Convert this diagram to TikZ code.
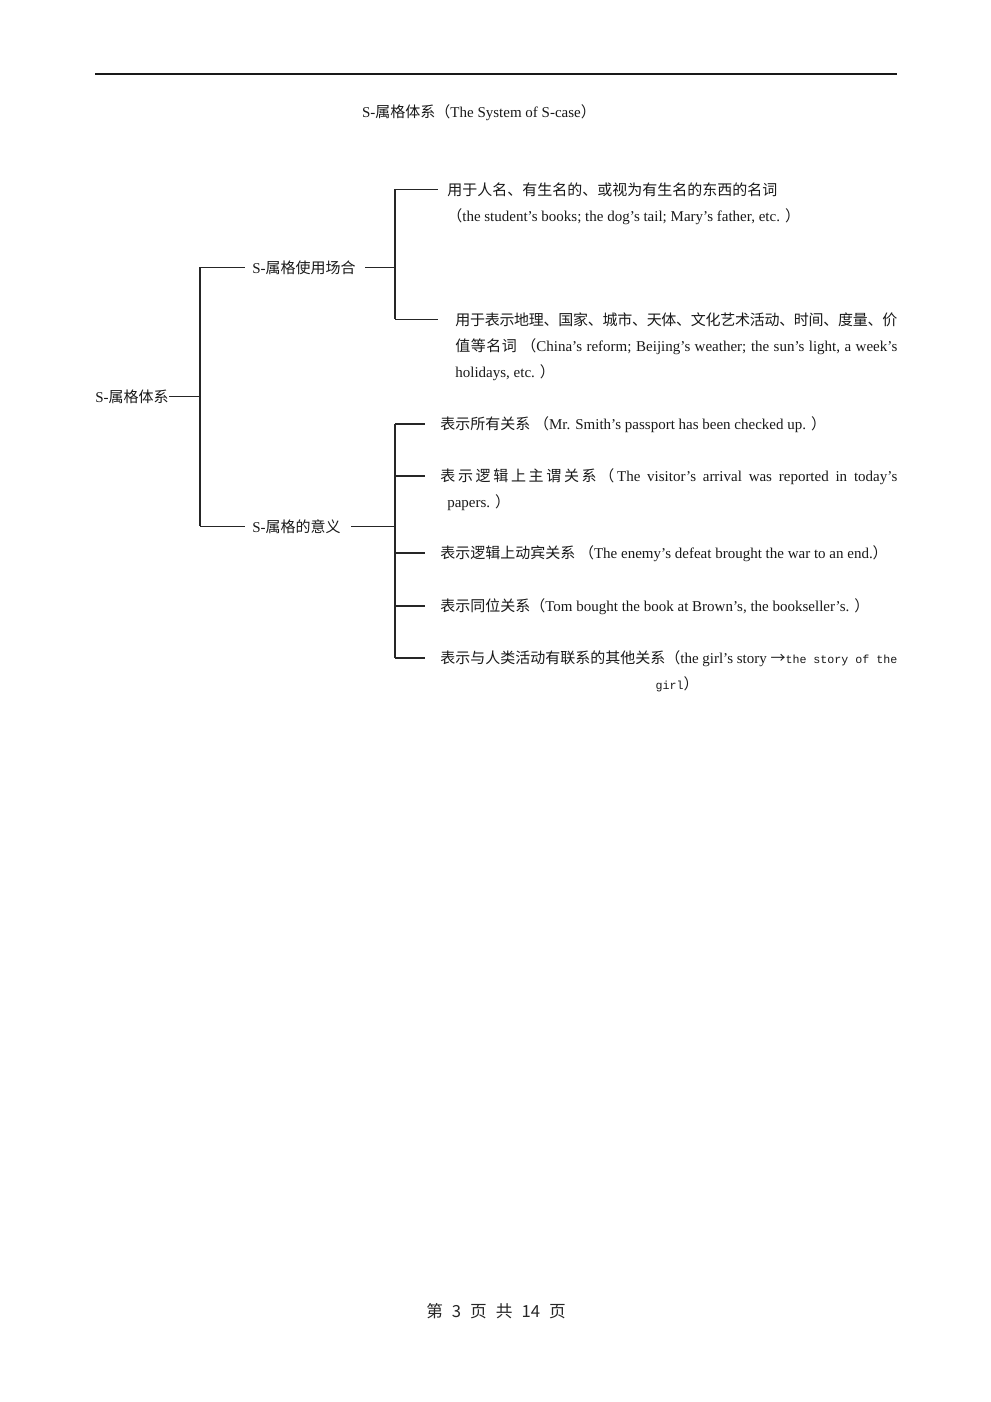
\documentclass[tikz,border=0pt]{standalone}
\usepackage{fontspec}
\setmainfont{Liberation Serif}
\newfontfamily\cjk{Noto Sans CJK SC}
\newfontfamily\monof{Liberation Mono}
\newcommand\zh[1]{{\cjk #1}}
% spread CJK characters with flexible glue
\def\cjkspread#1{\cjkspreadA#1\relax}
\def\cjkspreadA#1{\ifx#1\relax\unskip\else #1\hskip 0pt plus 1pt minus 1pt\expandafter\cjkspreadA\fi}
\begin{document}
\begin{tikzpicture}[x=0.6pt,y=-0.6pt,
  tx/.style={inner sep=0pt, anchor=base west, font=\fontsize{9}{11}\selectfont, text=black!90},
  link/.style={line width=0.9pt, draw=black!85}]
\useasboundingbox (0,0) rectangle (991,1402);
\fill[white] (0,0) rectangle (991,1402);
% header rule
\coordinate (hl) at (95,74);
\coordinate (hr) at (897,74);
\draw[line width=1.1pt, draw=black!90] (hl) -- (hr);
% title
\node[tx, anchor=base] (title) at (479,117) {S-\zh{属格体系（}The System of S-case\zh{）}};
% tree nodes
\node[tx] (root) at (95,402) {S-\zh{属格体系}};
\node[tx] (u) at (252,273) {S-\zh{属格使用场合}};
\node[tx] (m) at (252,532) {S-\zh{属格的意义}};
% use-cases
\node[tx] (a1) at (447,195) {\zh{用于人名、有生名的、或视为有生名的东西的名词}};
\node[tx] (a1x) at (447,221) {\zh{（}the student’s books; the dog’s tail; Mary’s father, etc. \zh{）}};
\node[tx] (a2) at (455,325) {\hbox to 265.2pt{\zh{\cjkspread{用于表示地理、国家、城市、天体、文化艺术活动、时间、度量、价}}}};
\node[tx] (a2x) at (455,351) {\hbox to 265.2pt{\zh{\cjkspread{值等名词}} \zh{（}China’s reform; Beijing’s weather; the sun’s light, a week’s}};
\node[tx] (a2y) at (455,377) {holidays, etc. \zh{）}};
% meanings
\node[tx] (b1) at (440,429) {\zh{表示所有关系} \zh{（}Mr. Smith’s passport has been checked up. \zh{）}};
\node[tx] (b2) at (440,481) {\hbox to 274.2pt{\zh{\cjkspread{表示逻辑上主谓关系（}}\hskip 0pt plus 1pt The visitor’s arrival was reported in today’s}};
\node[tx] (b2x) at (447,507) {papers. \zh{）}};
\node[tx] (b3) at (440,558) {\zh{表示逻辑上动宾关系} \zh{（}The enemy’s defeat brought the war to an end.\zh{）}};
\node[tx] (b4) at (440,611) {\zh{表示同位关系（}Tom bought the book at Brown’s, the bookseller’s. \zh{）}};
\node[tx] (b5) at (440,663) {\hbox to 274.2pt{\zh{表示与人类活动有联系的其他关系（}the girl’s story \zh{→}{\monof\fontsize{7}{9}\selectfont the story of the}}};
\node[tx, anchor=base] (b5x) at (677,689) {{\monof\fontsize{7}{9}\selectfont girl}\zh{）}};
% junctions
\coordinate (j0) at (200,397);
\coordinate (j1) at (395,268);
\coordinate (j2) at (395,527);
% root level
\draw[link] (root.east) -- (j0 |- root.east);
\draw[link] (j0 |- u.west) -- (j0 |- m.west);
\draw[link] (j0 |- u.west) -- ([xshift=-4.2pt]u.west);
\draw[link] (j0 |- m.west) -- ([xshift=-4.2pt]m.west);
% usage branch
\draw[link] ([xshift=5.4pt]u.east) -- (j1 |- u.east);
\draw[link] (j1 |- a1.west) -- (j1 |- a2.west);
\draw[link] (j1 |- a1.west) -- ([xshift=-5.4pt]a1.west);
\draw[link] (j1 |- a2.west) -- ([xshift=-10.2pt]a2.west);
% meaning branch
\draw[link] ([xshift=6pt]m.east) -- (j2 |- m.east);
\draw[link] (j2 |- b1.west) -- (j2 |- b5.west);
\draw[link] (j2 |- b1.west) -- ([xshift=-9pt]b1.west);
\draw[link] (j2 |- b2.west) -- ([xshift=-9pt]b2.west);
\draw[link] (j2 |- b3.west) -- ([xshift=-9pt]b3.west);
\draw[link] (j2 |- b4.west) -- ([xshift=-9pt]b4.west);
\draw[link] (j2 |- b5.west) -- ([xshift=-9pt]b5.west);
% footer
\node[inner sep=0pt, font=\cjk\fontsize{10}{12}\selectfont, text=black!85] (foot) at (496,1311) {第\hspace{5.4pt}3\hspace{5.4pt}页\hspace{5.4pt}共\hspace{5.4pt}14\hspace{5.4pt}页};
\end{tikzpicture}
\end{document}
